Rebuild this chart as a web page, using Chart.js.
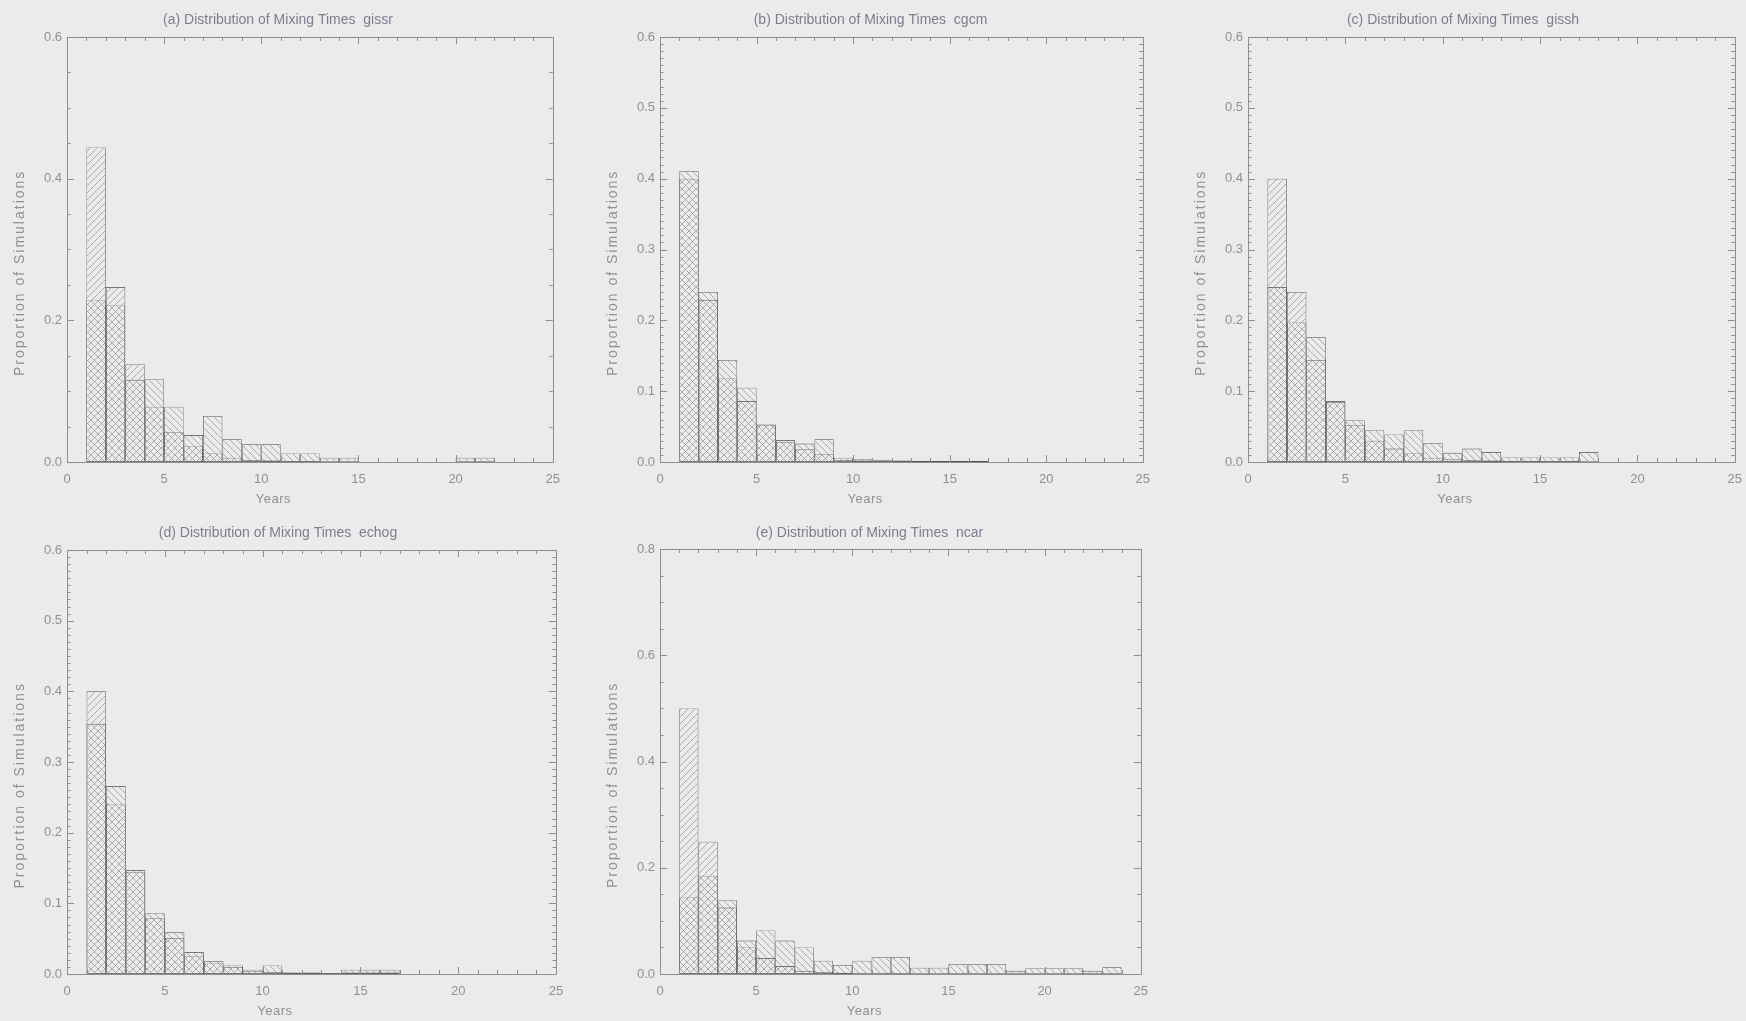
<!DOCTYPE html>
<html>
<head>
<meta charset="utf-8">
<script src="https://cdn.jsdelivr.net/npm/chart.js@4.4.1/dist/chart.umd.min.js"></script>
<style>
  html, body { margin: 0; padding: 0; background: #ebebeb; overflow: hidden; }
  body { width: 1746px; height: 1021px; position: relative; }
  canvas { position: absolute; }
</style>
</head>
<body>
<script>
// one-year bins, lower edge of each bin (years)
const binStarts = [1, 2, 3, 4, 5, 6, 7, 8, 9, 10, 11, 12, 13, 14, 15, 16, 17, 18, 19, 20, 21, 22, 23, 24];

// proportion of simulations per bin; "A" is the "/" hatched set, "B" the "\" hatched set
const gissrA = [0.444, 0.247, 0.138, 0.077, 0.042, 0.022, 0.012, 0.006, 0.003, 0.002, 0.001, 0.001];
const gissrB = [0.228, 0.221, 0.116, 0.117, 0.078, 0.038, 0.065, 0.032, 0.025, 0.025, 0.012, 0.012, 0.006, 0.006, 0, 0, 0, 0, 0, 0.006, 0.006];

const cgcmA = [0.400, 0.229, 0.118, 0.086, 0.052, 0.028, 0.018, 0.011, 0.003, 0.002, 0.001, 0.001, 0.001, 0.001, 0.001, 0.001];
const cgcmB = [0.411, 0.240, 0.144, 0.105, 0.053, 0.031, 0.026, 0.032, 0.006, 0.004, 0.003, 0.002, 0.0015, 0.0015, 0.0015, 0.0015];

const gisshA = [0.400, 0.240, 0.144, 0.085, 0.052, 0.030, 0.019, 0.012, 0.006, 0.004, 0.003, 0.002, 0.001, 0.001, 0.001, 0.001];
const gisshB = [0.247, 0.197, 0.176, 0.086, 0.059, 0.045, 0.039, 0.045, 0.027, 0.013, 0.019, 0.014, 0.0065, 0.0065, 0.0065, 0.0065, 0.014];

const echogA = [0.400, 0.240, 0.144, 0.079, 0.051, 0.026, 0.015, 0.010, 0.004, 0.003, 0.001, 0.001, 0.001, 0.002, 0.002, 0.002];
const echogB = [0.354, 0.266, 0.147, 0.086, 0.059, 0.031, 0.018, 0.012, 0.006, 0.012, 0.002, 0.002, 0.001, 0.006, 0.006, 0.006];

const ncarA = [0.500, 0.249, 0.125, 0.050, 0.030, 0.015, 0.006, 0.004, 0.0025, 0.001, 0.001, 0.001];
const ncarB = [0.144, 0.185, 0.139, 0.063, 0.082, 0.063, 0.050, 0.025, 0.017, 0.025, 0.032, 0.032, 0.012, 0.012, 0.019, 0.019, 0.019, 0.006, 0.011, 0.011, 0.011, 0.006, 0.0126];

const xAxisTitle = 'Years';
const yAxisTitle = 'Proportion of Simulations';
const titlePrefix = 'Distribution of Mixing Times';

const FONT = "'Liberation Sans', Arial, sans-serif";
const boxColor = '#8b8d99';
const barLine = '#505050';
const hatchColor = '#9a9a9a';
const labelColor = '#909090';
const titleColor = '#7c7e90';

// layout of the five panels (page pixels)
const panels = [
  { tag: '(a)', model: 'gissr', a: gissrA, b: gissrB, yMax: 0.6, yStep: 0.2, yMinor: 0.05,
    left: 0, top: 0, width: 570, height: 507, plot: [67, 37, 556, 462], titleY: 20.5 },
  { tag: '(b)', model: 'cgcm', a: cgcmA, b: cgcmB, yMax: 0.6, yStep: 0.1, yMinor: 0.01,
    left: 598, top: 0, width: 562, height: 507, plot: [660, 37, 1143, 462], titleY: 20.5 },
  { tag: '(c)', model: 'gissh', a: gisshA, b: gisshB, yMax: 0.6, yStep: 0.1, yMinor: 0.01,
    left: 1190, top: 0, width: 562, height: 507, plot: [1248, 37, 1736, 462], titleY: 20.5 },
  { tag: '(d)', model: 'echog', a: echogA, b: echogB, yMax: 0.6, yStep: 0.1, yMinor: 0.01,
    left: 0, top: 507, width: 579, height: 514, plot: [67, 550, 556, 974], titleY: 533.3 },
  { tag: '(e)', model: 'ncar', a: ncarA, b: ncarB, yMax: 0.8, yStep: 0.2, yMinor: 0.05,
    left: 596, top: 507, width: 562, height: 514, plot: [660, 549, 1143, 974], titleY: 533.3 }
];

function makeHatch(dir) {
  const s = 7;
  const tile = document.createElement('canvas');
  tile.width = s; tile.height = s;
  const g = tile.getContext('2d');
  g.strokeStyle = hatchColor;
  g.lineWidth = 0.8;
  g.beginPath();
  if (dir === '/') {
    g.moveTo(0, s); g.lineTo(s, 0);
    g.moveTo(-1, 1); g.lineTo(1, -1);
    g.moveTo(s - 1, s + 1); g.lineTo(s + 1, s - 1);
  } else {
    g.moveTo(0, 0); g.lineTo(s, s);
    g.moveTo(-1, s - 1); g.lineTo(1, s + 1);
    g.moveTo(s - 1, -1); g.lineTo(s + 1, 1);
  }
  g.stroke();
  return g.createPattern(tile, 'repeat');
}
const fwdHatch = makeHatch('/');
const backHatch = makeHatch('\\');

// IDL style box: inward major/minor ticks on all four sides + axis titles
const idlFrame = {
  id: 'idlFrame',
  afterDatasetsDraw(chart, args, opts) {
    const { ctx, chartArea: ca, scales: { x, y } } = chart;
    ctx.save();
    ctx.strokeStyle = boxColor;
    ctx.lineWidth = 1;
    ctx.beginPath();
    ctx.rect(Math.round(ca.left) + 0.5, Math.round(ca.top) + 0.5,
             Math.round(ca.right) - Math.round(ca.left), Math.round(ca.bottom) - Math.round(ca.top));
    const isMajor = (v, step) => Math.abs(v / step - Math.round(v / step)) < 1e-6;
    for (let i = 0; i <= Math.round((x.max - x.min) / opts.xMinor); i++) {
      const v = x.min + i * opts.xMinor;
      const px = Math.round(x.getPixelForValue(v)) + 0.5;
      const len = isMajor(v, opts.xStep) ? 7 : 4;
      ctx.moveTo(px, ca.bottom); ctx.lineTo(px, ca.bottom - len);
      ctx.moveTo(px, ca.top); ctx.lineTo(px, ca.top + len);
    }
    for (let i = 0; i <= Math.round((y.max - y.min) / opts.yMinor); i++) {
      const v = y.min + i * opts.yMinor;
      const py = Math.round(y.getPixelForValue(v)) + 0.5;
      const len = isMajor(v, opts.yStep) ? 7 : 3.5;
      ctx.moveTo(ca.left, py); ctx.lineTo(ca.left + len, py);
      ctx.moveTo(ca.right, py); ctx.lineTo(ca.right - len, py);
    }
    ctx.stroke();

    ctx.fillStyle = labelColor;
    ctx.textAlign = 'center';
    ctx.textBaseline = 'middle';
    ctx.font = '13px ' + FONT;
    ctx.letterSpacing = '0.5px';
    ctx.fillText(xAxisTitle, ca.left + 0.425 * ca.width, ca.bottom + 37);
    ctx.translate(ca.left - 47, ca.top + 0.555 * ca.height);
    ctx.rotate(-Math.PI / 2);
    ctx.font = '14px ' + FONT;
    ctx.letterSpacing = '2px';
    ctx.fillText(yAxisTitle, 0, 0);
    ctx.restore();
  }
};

const titleFontSize = 14;
const titleLine = titleFontSize * 1.2;

panels.forEach(p => {
  const [pl, pt, pr, pb] = p.plot;
  const canvas = document.createElement('canvas');
  canvas.width = p.width;
  canvas.height = p.height;
  canvas.style.left = p.left + 'px';
  canvas.style.top = p.top + 'px';
  document.body.appendChild(canvas);

  const toPoints = arr => binStarts.map((s, i) => ({ x: s + 0.5, y: arr[i] ? arr[i] : null }));
  const barStyle = { borderColor: barLine, borderWidth: 0.6, borderSkipped: false, inflateAmount: 0,
                     grouped: false, barPercentage: 1, categoryPercentage: 1 };

  new Chart(canvas, {
    type: 'bar',
    data: {
      datasets: [
        Object.assign({ data: toPoints(p.a), backgroundColor: fwdHatch }, barStyle),
        Object.assign({ data: toPoints(p.b), backgroundColor: backHatch }, barStyle)
      ]
    },
    options: {
      responsive: false,
      animation: false,
      devicePixelRatio: 1,
      layout: { padding: { left: 0, top: 0, bottom: 0, right: p.left + p.width - pr } },
      plugins: {
        legend: { display: false },
        tooltip: { enabled: false },
        title: {
          display: true,
          text: p.tag + ' ' + titlePrefix + '  ' + p.model,
          color: titleColor,
          font: { family: FONT, size: titleFontSize, weight: 'normal', lineHeight: 1.2 },
          padding: { top: p.titleY - p.top - titleLine / 2, bottom: pt - p.titleY - titleLine / 2 }
        },
        idlFrame: { xStep: 5, xMinor: 1, yStep: p.yStep, yMinor: p.yMinor }
      },
      scales: {
        x: {
          type: 'linear',
          min: 0, max: 25,
          offset: false,
          grid: { display: false, drawTicks: false },
          border: { display: false },
          ticks: { stepSize: 5, color: labelColor, padding: 10, maxRotation: 0,
                   font: { family: FONT, size: 13 }, callback: v => String(v) },
          afterFit: s => { s.height = p.top + p.height - pb; }
        },
        y: {
          min: 0, max: p.yMax,
          grid: { display: false, drawTicks: false },
          border: { display: false },
          ticks: { stepSize: p.yStep, color: labelColor, padding: 5,
                   font: { family: FONT, size: 13 }, callback: v => v.toFixed(1) },
          afterFit: s => { s.width = pl - p.left; }
        }
      }
    },
    plugins: [idlFrame]
  });
});
</script>
</body>
</html>
